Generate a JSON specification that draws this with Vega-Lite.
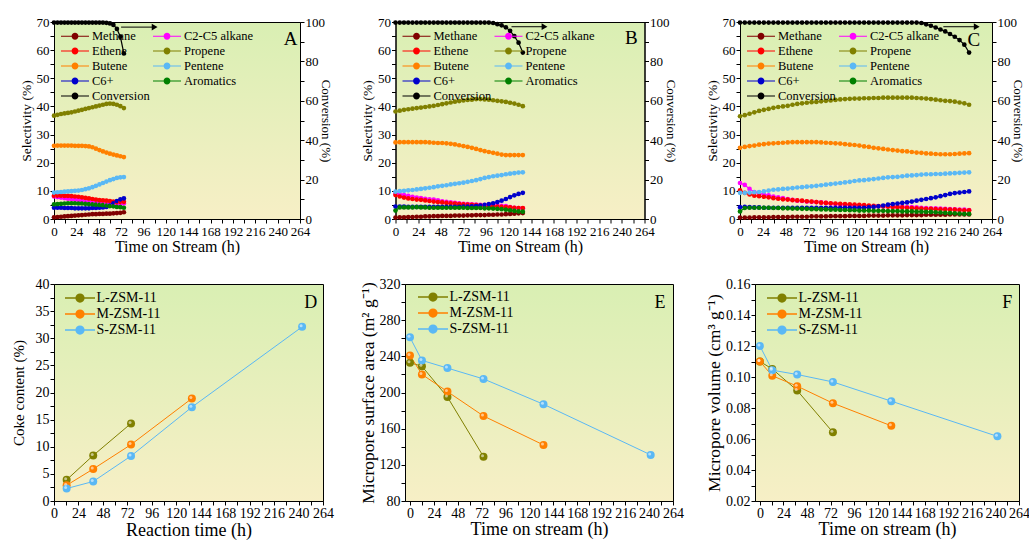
{
 "$schema": "https://vega.github.io/schema/vega-lite/v6.json",
 "padding": {"left": 10, "top": 15, "right": 0, "bottom": 0},
 "config": {
  "font": "Times New Roman, Liberation Serif, serif",
  "view": {"stroke": "black"},
  "axis": {"domainColor": "black", "tickColor": "black", "labelColor": "black", "titleColor": "black", "titleFontWeight": "normal", "grid": false, "labelFont": "Times New Roman, Liberation Serif, serif", "titleFont": "Times New Roman, Liberation Serif, serif", "tickSize": 4, "labelOverlap": false, "labelFlush": false, "labelPadding": 1},
  "legend": {"labelFont": "Times New Roman, Liberation Serif, serif", "labelColor": "black"},
  "text": {"font": "Times New Roman, Liberation Serif, serif"}
 },
 "datasets": {
  "dA": [
   {"t":0,"Methane":0.6,"C2-C5 alkane":8.0,"Ethene":8.3,"Propene":36.7,"Butene":26.0,"Pentene":9.4,"C6+":4.0,"Aromatics":5.2,"Conversion":99.7},
   {"t":3.75,"Methane":0.7,"C2-C5 alkane":7.8,"Ethene":8.3,"Propene":37.0,"Butene":26.1,"Pentene":9.5,"C6+":4.0,"Aromatics":5.3,"Conversion":99.7},
   {"t":7.5,"Methane":0.8,"C2-C5 alkane":7.6,"Ethene":8.3,"Propene":37.3,"Butene":26.1,"Pentene":9.6,"C6+":4.0,"Aromatics":5.4,"Conversion":99.7},
   {"t":11.25,"Methane":0.9,"C2-C5 alkane":7.4,"Ethene":8.2,"Propene":37.5,"Butene":26.1,"Pentene":9.7,"C6+":3.9,"Aromatics":5.5,"Conversion":99.7},
   {"t":15,"Methane":1.0,"C2-C5 alkane":7.2,"Ethene":8.2,"Propene":37.7,"Butene":26.1,"Pentene":9.8,"C6+":3.9,"Aromatics":5.6,"Conversion":99.7},
   {"t":18.75,"Methane":1.1,"C2-C5 alkane":7.0,"Ethene":8.1,"Propene":37.9,"Butene":26.1,"Pentene":9.9,"C6+":3.9,"Aromatics":5.6,"Conversion":99.7},
   {"t":22.5,"Methane":1.2,"C2-C5 alkane":6.9,"Ethene":8.0,"Propene":38.2,"Butene":26.0,"Pentene":10.0,"C6+":3.8,"Aromatics":5.6,"Conversion":99.7},
   {"t":26.25,"Methane":1.3,"C2-C5 alkane":6.7,"Ethene":7.9,"Propene":38.5,"Butene":26.0,"Pentene":10.1,"C6+":3.8,"Aromatics":5.5,"Conversion":99.7},
   {"t":30,"Methane":1.4,"C2-C5 alkane":6.5,"Ethene":7.7,"Propene":38.8,"Butene":26.0,"Pentene":10.3,"C6+":3.8,"Aromatics":5.5,"Conversion":99.7},
   {"t":33.75,"Methane":1.5,"C2-C5 alkane":6.3,"Ethene":7.5,"Propene":39.1,"Butene":25.9,"Pentene":10.6,"C6+":3.8,"Aromatics":5.4,"Conversion":99.7},
   {"t":37.5,"Methane":1.6,"C2-C5 alkane":6.1,"Ethene":7.3,"Propene":39.4,"Butene":25.8,"Pentene":10.9,"C6+":3.8,"Aromatics":5.3,"Conversion":99.7},
   {"t":41.25,"Methane":1.7,"C2-C5 alkane":5.9,"Ethene":7.1,"Propene":39.7,"Butene":25.5,"Pentene":11.3,"C6+":3.9,"Aromatics":5.2,"Conversion":99.7},
   {"t":45,"Methane":1.7,"C2-C5 alkane":5.8,"Ethene":6.9,"Propene":40.0,"Butene":25.0,"Pentene":11.8,"C6+":3.9,"Aromatics":5.1,"Conversion":99.7},
   {"t":48.75,"Methane":1.8,"C2-C5 alkane":5.6,"Ethene":6.7,"Propene":40.3,"Butene":24.5,"Pentene":12.3,"C6+":4.0,"Aromatics":5.0,"Conversion":99.7},
   {"t":52.5,"Methane":1.8,"C2-C5 alkane":5.5,"Ethene":6.6,"Propene":40.6,"Butene":24.0,"Pentene":12.8,"C6+":4.1,"Aromatics":4.9,"Conversion":99.7},
   {"t":56.25,"Methane":1.9,"C2-C5 alkane":5.4,"Ethene":6.5,"Propene":40.9,"Butene":23.6,"Pentene":13.3,"C6+":4.3,"Aromatics":4.8,"Conversion":99.6},
   {"t":60,"Methane":1.9,"C2-C5 alkane":5.3,"Ethene":6.4,"Propene":41.0,"Butene":23.2,"Pentene":13.8,"C6+":4.8,"Aromatics":4.6,"Conversion":99.3},
   {"t":63.75,"Methane":2.0,"C2-C5 alkane":5.2,"Ethene":6.2,"Propene":40.9,"Butene":22.9,"Pentene":14.2,"C6+":5.6,"Aromatics":4.5,"Conversion":98.5},
   {"t":67.5,"Methane":2.1,"C2-C5 alkane":5.2,"Ethene":6.0,"Propene":40.6,"Butene":22.6,"Pentene":14.6,"C6+":6.4,"Aromatics":4.3,"Conversion":96.5},
   {"t":71.25,"Methane":2.2,"C2-C5 alkane":5.3,"Ethene":6.0,"Propene":40.1,"Butene":22.3,"Pentene":14.8,"C6+":7.0,"Aromatics":4.2,"Conversion":92.5},
   {"t":75,"Methane":2.4,"C2-C5 alkane":5.5,"Ethene":6.1,"Propene":39.4,"Butene":22.0,"Pentene":14.9,"C6+":7.3,"Aromatics":4.0,"Conversion":84.0}
  ],
  "dB": [
   {"t":0,"Methane":0.5,"C2-C5 alkane":9.0,"Ethene":8.5,"Propene":38.2,"Butene":27.2,"Pentene":9.7,"C6+":4.4,"Aromatics":3.0,"Conversion":99.7},
   {"t":4.5,"Methane":0.6,"C2-C5 alkane":8.8,"Ethene":8.0,"Propene":38.5,"Butene":27.3,"Pentene":9.9,"C6+":4.4,"Aromatics":4.1,"Conversion":99.7},
   {"t":9,"Methane":0.6,"C2-C5 alkane":8.5,"Ethene":7.6,"Propene":38.8,"Butene":27.3,"Pentene":10.0,"C6+":4.4,"Aromatics":4.1,"Conversion":99.7},
   {"t":13.5,"Methane":0.7,"C2-C5 alkane":8.2,"Ethene":7.3,"Propene":39.0,"Butene":27.3,"Pentene":10.2,"C6+":4.3,"Aromatics":4.1,"Conversion":99.7},
   {"t":18,"Methane":0.7,"C2-C5 alkane":7.9,"Ethene":7.1,"Propene":39.2,"Butene":27.3,"Pentene":10.3,"C6+":4.3,"Aromatics":4.1,"Conversion":99.7},
   {"t":22.5,"Methane":0.8,"C2-C5 alkane":7.6,"Ethene":6.9,"Propene":39.4,"Butene":27.3,"Pentene":10.5,"C6+":4.3,"Aromatics":4.2,"Conversion":99.7},
   {"t":27,"Methane":0.8,"C2-C5 alkane":7.4,"Ethene":6.8,"Propene":39.6,"Butene":27.3,"Pentene":10.7,"C6+":4.3,"Aromatics":4.1,"Conversion":99.7},
   {"t":31.5,"Methane":0.9,"C2-C5 alkane":7.2,"Ethene":6.6,"Propene":39.8,"Butene":27.3,"Pentene":10.9,"C6+":4.3,"Aromatics":4.1,"Conversion":99.7},
   {"t":36,"Methane":0.9,"C2-C5 alkane":7.0,"Ethene":6.4,"Propene":40.0,"Butene":27.2,"Pentene":11.1,"C6+":4.3,"Aromatics":4.0,"Conversion":99.7},
   {"t":40.5,"Methane":1.0,"C2-C5 alkane":6.9,"Ethene":6.2,"Propene":40.2,"Butene":27.1,"Pentene":11.3,"C6+":4.3,"Aromatics":4.0,"Conversion":99.7},
   {"t":45,"Methane":1.0,"C2-C5 alkane":6.6,"Ethene":6.0,"Propene":40.5,"Butene":27.0,"Pentene":11.6,"C6+":4.3,"Aromatics":4.0,"Conversion":99.7},
   {"t":49.5,"Methane":1.1,"C2-C5 alkane":6.3,"Ethene":5.9,"Propene":40.8,"Butene":27.0,"Pentene":11.8,"C6+":4.3,"Aromatics":4.0,"Conversion":99.7},
   {"t":54,"Methane":1.1,"C2-C5 alkane":6.1,"Ethene":5.7,"Propene":41.1,"Butene":26.9,"Pentene":12.0,"C6+":4.3,"Aromatics":4.0,"Conversion":99.7},
   {"t":58.5,"Methane":1.1,"C2-C5 alkane":5.9,"Ethene":5.6,"Propene":41.4,"Butene":26.7,"Pentene":12.3,"C6+":4.3,"Aromatics":4.0,"Conversion":99.7},
   {"t":63,"Methane":1.2,"C2-C5 alkane":5.7,"Ethene":5.5,"Propene":41.7,"Butene":26.5,"Pentene":12.5,"C6+":4.3,"Aromatics":4.0,"Conversion":99.7},
   {"t":67.5,"Methane":1.2,"C2-C5 alkane":5.6,"Ethene":5.3,"Propene":41.9,"Butene":26.2,"Pentene":12.7,"C6+":4.3,"Aromatics":4.0,"Conversion":99.7},
   {"t":72,"Methane":1.2,"C2-C5 alkane":5.4,"Ethene":5.2,"Propene":42.1,"Butene":25.9,"Pentene":12.9,"C6+":4.4,"Aromatics":4.0,"Conversion":99.7},
   {"t":76.5,"Methane":1.3,"C2-C5 alkane":5.3,"Ethene":5.1,"Propene":42.3,"Butene":25.6,"Pentene":13.2,"C6+":4.4,"Aromatics":3.9,"Conversion":99.7},
   {"t":81,"Methane":1.3,"C2-C5 alkane":5.2,"Ethene":5.0,"Propene":42.4,"Butene":25.3,"Pentene":13.5,"C6+":4.5,"Aromatics":3.9,"Conversion":99.7},
   {"t":85.5,"Methane":1.4,"C2-C5 alkane":5.1,"Ethene":4.9,"Propene":42.6,"Butene":24.9,"Pentene":13.8,"C6+":4.6,"Aromatics":3.9,"Conversion":99.7},
   {"t":90,"Methane":1.4,"C2-C5 alkane":5.0,"Ethene":4.8,"Propene":42.6,"Butene":24.5,"Pentene":14.2,"C6+":4.8,"Aromatics":3.9,"Conversion":99.7},
   {"t":94.5,"Methane":1.4,"C2-C5 alkane":4.9,"Ethene":4.7,"Propene":42.5,"Butene":24.1,"Pentene":14.6,"C6+":5.0,"Aromatics":3.8,"Conversion":99.7},
   {"t":99,"Methane":1.5,"C2-C5 alkane":4.9,"Ethene":4.6,"Propene":42.4,"Butene":23.8,"Pentene":14.9,"C6+":5.3,"Aromatics":3.8,"Conversion":99.7},
   {"t":103.5,"Methane":1.5,"C2-C5 alkane":4.8,"Ethene":4.5,"Propene":42.2,"Butene":23.5,"Pentene":15.2,"C6+":5.6,"Aromatics":3.7,"Conversion":99.5},
   {"t":108,"Methane":1.6,"C2-C5 alkane":4.8,"Ethene":4.4,"Propene":42.0,"Butene":23.2,"Pentene":15.4,"C6+":6.0,"Aromatics":3.6,"Conversion":98.9},
   {"t":112.5,"Methane":1.6,"C2-C5 alkane":4.7,"Ethene":4.3,"Propene":41.8,"Butene":22.9,"Pentene":15.6,"C6+":6.5,"Aromatics":3.5,"Conversion":98.3},
   {"t":117,"Methane":1.7,"C2-C5 alkane":4.6,"Ethene":4.2,"Propene":41.6,"Butene":22.7,"Pentene":15.9,"C6+":7.1,"Aromatics":3.3,"Conversion":97.3},
   {"t":121.5,"Methane":1.8,"C2-C5 alkane":4.2,"Ethene":4.1,"Propene":41.3,"Butene":22.7,"Pentene":16.1,"C6+":7.8,"Aromatics":3.1,"Conversion":95.5},
   {"t":126,"Methane":1.9,"C2-C5 alkane":4.0,"Ethene":4.0,"Propene":41.0,"Butene":22.7,"Pentene":16.3,"C6+":8.4,"Aromatics":2.9,"Conversion":92.8},
   {"t":130.5,"Methane":2.0,"C2-C5 alkane":3.9,"Ethene":3.9,"Propene":40.6,"Butene":22.7,"Pentene":16.5,"C6+":8.9,"Aromatics":2.7,"Conversion":89.5},
   {"t":135,"Methane":2.1,"C2-C5 alkane":3.8,"Ethene":3.9,"Propene":40.1,"Butene":22.7,"Pentene":16.6,"C6+":9.3,"Aromatics":2.6,"Conversion":84.5}
  ],
  "dC": [
   {"t":0,"Methane":0.5,"C2-C5 alkane":12.8,"Ethene":10.2,"Propene":36.5,"Butene":25.3,"Pentene":9.3,"C6+":4.2,"Aromatics":2.7,"Conversion":99.7},
   {"t":5,"Methane":0.5,"C2-C5 alkane":12.1,"Ethene":9.3,"Propene":36.9,"Butene":25.6,"Pentene":9.3,"C6+":4.3,"Aromatics":3.9,"Conversion":99.7},
   {"t":10,"Methane":0.5,"C2-C5 alkane":10.7,"Ethene":8.7,"Propene":37.4,"Butene":25.9,"Pentene":9.4,"C6+":4.2,"Aromatics":4.0,"Conversion":99.7},
   {"t":15,"Methane":0.6,"C2-C5 alkane":9.6,"Ethene":8.3,"Propene":37.9,"Butene":26.1,"Pentene":9.5,"C6+":4.1,"Aromatics":4.0,"Conversion":99.7},
   {"t":20,"Methane":0.6,"C2-C5 alkane":9.1,"Ethene":8.1,"Propene":38.4,"Butene":26.4,"Pentene":9.6,"C6+":4.1,"Aromatics":4.0,"Conversion":99.7},
   {"t":25,"Methane":0.6,"C2-C5 alkane":8.7,"Ethene":7.9,"Propene":38.8,"Butene":26.6,"Pentene":9.8,"C6+":4.0,"Aromatics":4.0,"Conversion":99.7},
   {"t":30,"Methane":0.6,"C2-C5 alkane":8.4,"Ethene":7.7,"Propene":39.1,"Butene":26.8,"Pentene":10.1,"C6+":4.0,"Aromatics":4.0,"Conversion":99.7},
   {"t":35,"Methane":0.7,"C2-C5 alkane":8.0,"Ethene":7.4,"Propene":39.5,"Butene":26.9,"Pentene":10.4,"C6+":4.0,"Aromatics":3.9,"Conversion":99.7},
   {"t":40,"Methane":0.7,"C2-C5 alkane":7.7,"Ethene":7.2,"Propene":39.8,"Butene":27.0,"Pentene":10.5,"C6+":4.0,"Aromatics":3.9,"Conversion":99.7},
   {"t":45,"Methane":0.7,"C2-C5 alkane":7.4,"Ethene":7.0,"Propene":40.0,"Butene":27.1,"Pentene":10.7,"C6+":4.0,"Aromatics":3.8,"Conversion":99.7},
   {"t":50,"Methane":0.7,"C2-C5 alkane":7.1,"Ethene":6.9,"Propene":40.2,"Butene":27.2,"Pentene":10.8,"C6+":4.0,"Aromatics":3.8,"Conversion":99.7},
   {"t":55,"Methane":0.8,"C2-C5 alkane":6.8,"Ethene":6.7,"Propene":40.6,"Butene":27.3,"Pentene":11.0,"C6+":4.0,"Aromatics":3.7,"Conversion":99.7},
   {"t":60,"Methane":0.8,"C2-C5 alkane":6.5,"Ethene":6.6,"Propene":40.9,"Butene":27.3,"Pentene":11.2,"C6+":4.0,"Aromatics":3.7,"Conversion":99.7},
   {"t":65,"Methane":0.8,"C2-C5 alkane":6.4,"Ethene":6.5,"Propene":41.1,"Butene":27.3,"Pentene":11.3,"C6+":4.0,"Aromatics":3.6,"Conversion":99.7},
   {"t":70,"Methane":0.8,"C2-C5 alkane":6.2,"Ethene":6.3,"Propene":41.3,"Butene":27.3,"Pentene":11.5,"C6+":4.0,"Aromatics":3.6,"Conversion":99.7},
   {"t":75,"Methane":0.9,"C2-C5 alkane":6.1,"Ethene":6.2,"Propene":41.5,"Butene":27.3,"Pentene":11.6,"C6+":4.0,"Aromatics":3.5,"Conversion":99.7},
   {"t":80,"Methane":0.9,"C2-C5 alkane":6.0,"Ethene":6.0,"Propene":41.6,"Butene":27.3,"Pentene":11.8,"C6+":4.0,"Aromatics":3.5,"Conversion":99.7},
   {"t":85,"Methane":0.9,"C2-C5 alkane":5.9,"Ethene":5.8,"Propene":41.8,"Butene":27.2,"Pentene":12.0,"C6+":4.0,"Aromatics":3.4,"Conversion":99.7},
   {"t":90,"Methane":0.9,"C2-C5 alkane":5.7,"Ethene":5.7,"Propene":42.0,"Butene":27.1,"Pentene":12.2,"C6+":4.0,"Aromatics":3.4,"Conversion":99.7},
   {"t":95,"Methane":1.0,"C2-C5 alkane":5.5,"Ethene":5.6,"Propene":42.1,"Butene":27.0,"Pentene":12.4,"C6+":4.0,"Aromatics":3.3,"Conversion":99.7},
   {"t":100,"Methane":1.0,"C2-C5 alkane":5.3,"Ethene":5.5,"Propene":42.3,"Butene":26.9,"Pentene":12.6,"C6+":4.0,"Aromatics":3.3,"Conversion":99.7},
   {"t":105,"Methane":1.0,"C2-C5 alkane":5.1,"Ethene":5.4,"Propene":42.5,"Butene":26.8,"Pentene":12.8,"C6+":4.0,"Aromatics":3.2,"Conversion":99.7},
   {"t":110,"Methane":1.0,"C2-C5 alkane":5.0,"Ethene":5.3,"Propene":42.6,"Butene":26.6,"Pentene":13.0,"C6+":4.0,"Aromatics":3.2,"Conversion":99.7},
   {"t":115,"Methane":1.1,"C2-C5 alkane":4.9,"Ethene":5.2,"Propene":42.7,"Butene":26.4,"Pentene":13.2,"C6+":4.0,"Aromatics":3.1,"Conversion":99.7},
   {"t":120,"Methane":1.1,"C2-C5 alkane":4.8,"Ethene":5.1,"Propene":42.8,"Butene":26.3,"Pentene":13.5,"C6+":4.0,"Aromatics":3.1,"Conversion":99.7},
   {"t":125,"Methane":1.1,"C2-C5 alkane":4.8,"Ethene":5.0,"Propene":42.8,"Butene":26.1,"Pentene":13.7,"C6+":4.0,"Aromatics":3.0,"Conversion":99.7},
   {"t":130,"Methane":1.1,"C2-C5 alkane":4.7,"Ethene":4.9,"Propene":42.9,"Butene":25.8,"Pentene":13.8,"C6+":4.0,"Aromatics":3.0,"Conversion":99.7},
   {"t":135,"Methane":1.2,"C2-C5 alkane":4.6,"Ethene":4.8,"Propene":42.9,"Butene":25.6,"Pentene":14.0,"C6+":4.1,"Aromatics":3.0,"Conversion":99.7},
   {"t":140,"Methane":1.2,"C2-C5 alkane":4.5,"Ethene":4.7,"Propene":43.0,"Butene":25.3,"Pentene":14.2,"C6+":4.3,"Aromatics":2.9,"Conversion":99.7},
   {"t":145,"Methane":1.2,"C2-C5 alkane":4.5,"Ethene":4.6,"Propene":43.0,"Butene":25.1,"Pentene":14.4,"C6+":4.5,"Aromatics":2.9,"Conversion":99.7},
   {"t":150,"Methane":1.2,"C2-C5 alkane":4.4,"Ethene":4.5,"Propene":43.1,"Butene":24.9,"Pentene":14.6,"C6+":4.8,"Aromatics":2.9,"Conversion":99.7},
   {"t":155,"Methane":1.3,"C2-C5 alkane":4.4,"Ethene":4.4,"Propene":43.1,"Butene":24.7,"Pentene":14.8,"C6+":5.1,"Aromatics":2.8,"Conversion":99.7},
   {"t":160,"Methane":1.3,"C2-C5 alkane":4.3,"Ethene":4.3,"Propene":43.1,"Butene":24.5,"Pentene":14.9,"C6+":5.3,"Aromatics":2.8,"Conversion":99.7},
   {"t":165,"Methane":1.3,"C2-C5 alkane":4.3,"Ethene":4.2,"Propene":43.1,"Butene":24.3,"Pentene":15.0,"C6+":5.5,"Aromatics":2.8,"Conversion":99.7},
   {"t":170,"Methane":1.3,"C2-C5 alkane":4.3,"Ethene":4.1,"Propene":43.1,"Butene":24.1,"Pentene":15.2,"C6+":5.7,"Aromatics":2.7,"Conversion":99.7},
   {"t":175,"Methane":1.4,"C2-C5 alkane":4.2,"Ethene":4.0,"Propene":43.1,"Butene":24.0,"Pentene":15.4,"C6+":5.9,"Aromatics":2.7,"Conversion":99.7},
   {"t":180,"Methane":1.4,"C2-C5 alkane":4.2,"Ethene":3.9,"Propene":43.1,"Butene":23.8,"Pentene":15.5,"C6+":6.2,"Aromatics":2.7,"Conversion":99.7},
   {"t":185,"Methane":1.4,"C2-C5 alkane":4.1,"Ethene":3.8,"Propene":43.0,"Butene":23.6,"Pentene":15.6,"C6+":6.5,"Aromatics":2.6,"Conversion":99.7},
   {"t":190,"Methane":1.4,"C2-C5 alkane":4.0,"Ethene":3.7,"Propene":42.9,"Butene":23.5,"Pentene":15.8,"C6+":6.8,"Aromatics":2.6,"Conversion":99.5},
   {"t":195,"Methane":1.5,"C2-C5 alkane":3.9,"Ethene":3.6,"Propene":42.8,"Butene":23.3,"Pentene":15.9,"C6+":7.1,"Aromatics":2.5,"Conversion":98.8},
   {"t":200,"Methane":1.5,"C2-C5 alkane":3.8,"Ethene":3.6,"Propene":42.6,"Butene":23.2,"Pentene":15.9,"C6+":7.4,"Aromatics":2.5,"Conversion":98.1},
   {"t":205,"Methane":1.5,"C2-C5 alkane":3.8,"Ethene":3.5,"Propene":42.4,"Butene":23.1,"Pentene":16.0,"C6+":7.7,"Aromatics":2.4,"Conversion":97.2},
   {"t":210,"Methane":1.5,"C2-C5 alkane":3.7,"Ethene":3.4,"Propene":42.2,"Butene":23.0,"Pentene":16.0,"C6+":8.1,"Aromatics":2.3,"Conversion":96.2},
   {"t":215,"Methane":1.5,"C2-C5 alkane":3.6,"Ethene":3.4,"Propene":42.0,"Butene":23.0,"Pentene":16.1,"C6+":8.5,"Aromatics":2.2,"Conversion":95.2},
   {"t":220,"Methane":1.6,"C2-C5 alkane":3.5,"Ethene":3.3,"Propene":41.9,"Butene":23.0,"Pentene":16.2,"C6+":8.9,"Aromatics":2.1,"Conversion":93.9},
   {"t":225,"Methane":1.6,"C2-C5 alkane":3.4,"Ethene":3.3,"Propene":41.7,"Butene":23.1,"Pentene":16.3,"C6+":9.2,"Aromatics":2.0,"Conversion":92.5},
   {"t":230,"Methane":1.6,"C2-C5 alkane":3.3,"Ethene":3.2,"Propene":41.4,"Butene":23.2,"Pentene":16.4,"C6+":9.4,"Aromatics":1.9,"Conversion":90.8},
   {"t":235,"Methane":1.6,"C2-C5 alkane":3.3,"Ethene":3.1,"Propene":41.1,"Butene":23.3,"Pentene":16.5,"C6+":9.6,"Aromatics":1.8,"Conversion":88.5},
   {"t":240,"Methane":1.6,"C2-C5 alkane":3.2,"Ethene":3.1,"Propene":40.6,"Butene":23.4,"Pentene":16.6,"C6+":9.8,"Aromatics":1.8,"Conversion":84.5}
  ],
  "dD": [
   {"t":12.4,"v":3.9,"s":"L-ZSM-11"},{"t":38.5,"v":8.4,"s":"L-ZSM-11"},{"t":75.6,"v":14.3,"s":"L-ZSM-11"},
   {"t":12.4,"v":2.9,"s":"M-ZSM-11"},{"t":38.5,"v":5.9,"s":"M-ZSM-11"},{"t":75.6,"v":10.4,"s":"M-ZSM-11"},{"t":135.3,"v":18.9,"s":"M-ZSM-11"},
   {"t":12.4,"v":2.3,"s":"S-ZSM-11"},{"t":38.5,"v":3.6,"s":"S-ZSM-11"},{"t":75.6,"v":8.3,"s":"S-ZSM-11"},{"t":135.3,"v":17.3,"s":"S-ZSM-11"},{"t":243.5,"v":32.1,"s":"S-ZSM-11"}
  ],
  "dE": [
   {"t":0,"v":233,"s":"L-ZSM-11"},{"t":12,"v":229,"s":"L-ZSM-11"},{"t":37.6,"v":195,"s":"L-ZSM-11"},{"t":73.8,"v":129,"s":"L-ZSM-11"},
   {"t":0,"v":241,"s":"M-ZSM-11"},{"t":12,"v":220,"s":"M-ZSM-11"},{"t":37.6,"v":201,"s":"M-ZSM-11"},{"t":73.8,"v":174,"s":"M-ZSM-11"},{"t":134,"v":142,"s":"M-ZSM-11"},
   {"t":0,"v":261,"s":"S-ZSM-11"},{"t":12,"v":235.5,"s":"S-ZSM-11"},{"t":37.6,"v":227,"s":"S-ZSM-11"},{"t":73.8,"v":215,"s":"S-ZSM-11"},{"t":134,"v":187,"s":"S-ZSM-11"},{"t":241.6,"v":131,"s":"S-ZSM-11"}
  ],
  "dF": [
   {"t":0,"v":0.110,"s":"L-ZSM-11"},{"t":12.6,"v":0.1052,"s":"L-ZSM-11"},{"t":38,"v":0.0913,"s":"L-ZSM-11"},{"t":74.4,"v":0.0643,"s":"L-ZSM-11"},
   {"t":0,"v":0.110,"s":"M-ZSM-11"},{"t":12.6,"v":0.1008,"s":"M-ZSM-11"},{"t":38,"v":0.0941,"s":"M-ZSM-11"},{"t":74.4,"v":0.0831,"s":"M-ZSM-11"},{"t":133.9,"v":0.0685,"s":"M-ZSM-11"},
   {"t":0,"v":0.120,"s":"S-ZSM-11"},{"t":12.6,"v":0.1044,"s":"S-ZSM-11"},{"t":38,"v":0.1016,"s":"S-ZSM-11"},{"t":74.4,"v":0.0968,"s":"S-ZSM-11"},{"t":133.9,"v":0.0844,"s":"S-ZSM-11"},{"t":242,"v":0.0617,"s":"S-ZSM-11"}
  ]
 },
 "spacing": 21,
 "resolve": {"scale": {"color": "independent"}, "legend": {"color": "independent"}},
 "vconcat": [
  {
   "hconcat": [
    {
     "width": 246, "height": 197,
     "view": {"stroke": "black", "fill": {"gradient": "linear", "x1": 0, "y1": 0, "x2": 0, "y2": 1, "stops": [{"offset": 0, "color": "#d9efb3"}, {"offset": 1, "color": "#f7efc6"}]}},
     "resolve": {"scale": {"y": "independent"}},
     "encoding": {"x": {"field": "t", "type": "quantitative", "scale": {"domain": [0, 264], "nice": false}, "axis": {"title": "Time on Stream (h)", "values": [0,12,24,36,48,60,72,84,96,108,120,132,144,156,168,180,192,204,216,228,240,252,264], "labelExpr": "datum.value % 24 === 0 ? datum.label : ''", "encode": {"ticks": {"update": {"y2": {"signal": "datum.value % 24 === 0 ? 4 : 2"}}}}, "labelFontSize": 13, "labelPadding": 2, "titleFontSize": 16, "titlePadding": 0.5}}},
     "layer": [
      {
       "encoding": {"y": {"field": "sel", "type": "quantitative", "scale": {"domain": [0, 70], "nice": false}, "axis": {"orient": "left", "title": "Selectivity (%)", "values": [0,5,10,15,20,25,30,35,40,45,50,55,60,65,70], "labelExpr": "datum.value % 10 === 0 ? datum.label : ''", "encode": {"ticks": {"update": {"x2": {"signal": "datum.value % 10 === 0 ? -4 : -2"}}}}, "labelFontSize": 13, "titleFontSize": 13.5, "titlePadding": 3}}},
       "layer": [
        {"data": {"name": "dA"}, "transform": [{"fold": ["Methane","C2-C5 alkane","Ethene","Propene","Butene","Pentene","C6+","Aromatics"], "as": ["series", "sel"]}], "mark": {"type": "line", "strokeWidth": 1.2},
         "encoding": {"color": {"field": "series", "type": "nominal", "scale": {"domain": ["Methane","C2-C5 alkane","Ethene","Propene","Butene","Pentene","C6+","Aromatics","Conversion"], "range": ["#800000","#ff00ff","#ff0000","#808000","#ff8000","#5ab8f5","#0000cc","#008000","#000000"]}, "legend": {"title": null, "orient": "none", "legendX": 6, "legendY": 6, "columns": 2, "direction": "horizontal", "columnPadding": 0, "rowPadding": 0, "symbolType": "M-2,0H2M-0.4,0A0.4,0.4,0,1,0,0.4,0A0.4,0.4,0,1,0,-0.4,0M-0.25,0A0.25,0.25,0,1,0,0.25,0A0.25,0.25,0,1,0,-0.25,0M-0.1,0A0.1,0.1,0,1,0,0.1,0A0.1,0.1,0,1,0,-0.1,0", "symbolSize": 196, "symbolOffset": 7, "symbolStrokeWidth": 1.2, "labelFontSize": 12.5, "labelOffset": 9, "padding": 0}}}},
        {"data": {"name": "dA"}, "transform": [{"fold": ["Methane","C2-C5 alkane","Ethene","Propene","Butene","Pentene","C6+","Aromatics"], "as": ["series", "sel"]}], "mark": {"type": "circle", "size": 22, "opacity": 1},
         "encoding": {"color": {"field": "series", "type": "nominal", "scale": {"domain": ["Methane","C2-C5 alkane","Ethene","Propene","Butene","Pentene","C6+","Aromatics","Conversion"], "range": ["#800000","#ff00ff","#ff0000","#808000","#ff8000","#5ab8f5","#0000cc","#008000","#000000"]}, "legend": {"title": null, "orient": "none", "legendX": 6, "legendY": 6, "columns": 2, "direction": "horizontal", "columnPadding": 0, "rowPadding": 0, "symbolType": "M-2,0H2M-0.4,0A0.4,0.4,0,1,0,0.4,0A0.4,0.4,0,1,0,-0.4,0M-0.25,0A0.25,0.25,0,1,0,0.25,0A0.25,0.25,0,1,0,-0.25,0M-0.1,0A0.1,0.1,0,1,0,0.1,0A0.1,0.1,0,1,0,-0.1,0", "symbolSize": 196, "symbolOffset": 7, "symbolStrokeWidth": 1.2, "labelFontSize": 12.5, "labelOffset": 9, "padding": 0}}}},
        {"data": {"values": [{"t": 254, "sel": 64, "lab": "A"}]}, "mark": {"type": "text", "fontSize": 19, "color": "black"}, "encoding": {"text": {"field": "lab"}}}
       ]
      },
      {
       "encoding": {"y": {"field": "conv", "type": "quantitative", "scale": {"domain": [0, 100], "nice": false}, "axis": {"orient": "right", "title": "Conversion (%)", "values": [0,10,20,30,40,50,60,70,80,90,100], "labelExpr": "datum.value % 20 === 0 ? datum.label : ''", "encode": {"ticks": {"update": {"x2": {"signal": "datum.value % 20 === 0 ? 4 : 2"}}}}, "labelFontSize": 13, "titleFontSize": 13, "titlePadding": -6}}},
       "layer": [
        {"data": {"name": "dA"}, "transform": [{"fold": ["Conversion"], "as": ["series", "conv"]}], "mark": {"type": "line", "strokeWidth": 1.2},
         "encoding": {"color": {"field": "series", "type": "nominal", "scale": {"domain": ["Methane","C2-C5 alkane","Ethene","Propene","Butene","Pentene","C6+","Aromatics","Conversion"], "range": ["#800000","#ff00ff","#ff0000","#808000","#ff8000","#5ab8f5","#0000cc","#008000","#000000"]}, "legend": {"title": null, "orient": "none", "legendX": 6, "legendY": 6, "columns": 2, "direction": "horizontal", "columnPadding": 0, "rowPadding": 0, "symbolType": "M-2,0H2M-0.4,0A0.4,0.4,0,1,0,0.4,0A0.4,0.4,0,1,0,-0.4,0M-0.25,0A0.25,0.25,0,1,0,0.25,0A0.25,0.25,0,1,0,-0.25,0M-0.1,0A0.1,0.1,0,1,0,0.1,0A0.1,0.1,0,1,0,-0.1,0", "symbolSize": 196, "symbolOffset": 7, "symbolStrokeWidth": 1.2, "labelFontSize": 12.5, "labelOffset": 9, "padding": 0}}}},
        {"data": {"name": "dA"}, "transform": [{"fold": ["Conversion"], "as": ["series", "conv"]}], "mark": {"type": "circle", "size": 22, "opacity": 1},
         "encoding": {"color": {"field": "series", "type": "nominal", "scale": {"domain": ["Methane","C2-C5 alkane","Ethene","Propene","Butene","Pentene","C6+","Aromatics","Conversion"], "range": ["#800000","#ff00ff","#ff0000","#808000","#ff8000","#5ab8f5","#0000cc","#008000","#000000"]}, "legend": {"title": null, "orient": "none", "legendX": 6, "legendY": 6, "columns": 2, "direction": "horizontal", "columnPadding": 0, "rowPadding": 0, "symbolType": "M-2,0H2M-0.4,0A0.4,0.4,0,1,0,0.4,0A0.4,0.4,0,1,0,-0.4,0M-0.25,0A0.25,0.25,0,1,0,0.25,0A0.25,0.25,0,1,0,-0.25,0M-0.1,0A0.1,0.1,0,1,0,0.1,0A0.1,0.1,0,1,0,-0.1,0", "symbolSize": 196, "symbolOffset": 7, "symbolStrokeWidth": 1.2, "labelFontSize": 12.5, "labelOffset": 9, "padding": 0}}}},
        {"data": {"values": [{"t": 72, "t2": 108, "conv": 97.4}]}, "mark": {"type": "rule", "color": "black", "strokeWidth": 1}, "encoding": {"x2": {"field": "t2"}}},
        {"data": {"values": [{"t": 108, "conv": 97.4}]}, "mark": {"type": "point", "shape": "triangle-right", "filled": true, "color": "black", "size": 45, "opacity": 1}}
       ]
      }
     ]
    },
    {
     "width": 249, "height": 197,
     "view": {"stroke": "black", "fill": {"gradient": "linear", "x1": 0, "y1": 0, "x2": 0, "y2": 1, "stops": [{"offset": 0, "color": "#d9efb3"}, {"offset": 1, "color": "#f7efc6"}]}},
     "resolve": {"scale": {"y": "independent"}},
     "encoding": {"x": {"field": "t", "type": "quantitative", "scale": {"domain": [0, 264], "nice": false}, "axis": {"title": "Time on Stream (h)", "values": [0,12,24,36,48,60,72,84,96,108,120,132,144,156,168,180,192,204,216,228,240,252,264], "labelExpr": "datum.value % 24 === 0 ? datum.label : ''", "encode": {"ticks": {"update": {"y2": {"signal": "datum.value % 24 === 0 ? 4 : 2"}}}}, "labelFontSize": 13, "labelPadding": 2, "titleFontSize": 16, "titlePadding": 0.5}}},
     "layer": [
      {
       "encoding": {"y": {"field": "sel", "type": "quantitative", "scale": {"domain": [0, 70], "nice": false}, "axis": {"orient": "left", "title": "Selectivity (%)", "values": [0,5,10,15,20,25,30,35,40,45,50,55,60,65,70], "labelExpr": "datum.value % 10 === 0 ? datum.label : ''", "encode": {"ticks": {"update": {"x2": {"signal": "datum.value % 10 === 0 ? -4 : -2"}}}}, "labelFontSize": 13, "titleFontSize": 13.5, "titlePadding": 3}}},
       "layer": [
        {"data": {"name": "dB"}, "transform": [{"fold": ["Methane","C2-C5 alkane","Ethene","Propene","Butene","Pentene","C6+","Aromatics"], "as": ["series", "sel"]}], "mark": {"type": "line", "strokeWidth": 1.2},
         "encoding": {"color": {"field": "series", "type": "nominal", "scale": {"domain": ["Methane","C2-C5 alkane","Ethene","Propene","Butene","Pentene","C6+","Aromatics","Conversion"], "range": ["#800000","#ff00ff","#ff0000","#808000","#ff8000","#5ab8f5","#0000cc","#008000","#000000"]}, "legend": {"title": null, "orient": "none", "legendX": 6, "legendY": 6, "columns": 2, "direction": "horizontal", "columnPadding": 0, "rowPadding": 0, "symbolType": "M-2,0H2M-0.4,0A0.4,0.4,0,1,0,0.4,0A0.4,0.4,0,1,0,-0.4,0M-0.25,0A0.25,0.25,0,1,0,0.25,0A0.25,0.25,0,1,0,-0.25,0M-0.1,0A0.1,0.1,0,1,0,0.1,0A0.1,0.1,0,1,0,-0.1,0", "symbolSize": 196, "symbolOffset": 7, "symbolStrokeWidth": 1.2, "labelFontSize": 12.5, "labelOffset": 9, "padding": 0}}}},
        {"data": {"name": "dB"}, "transform": [{"fold": ["Methane","C2-C5 alkane","Ethene","Propene","Butene","Pentene","C6+","Aromatics"], "as": ["series", "sel"]}], "mark": {"type": "circle", "size": 22, "opacity": 1},
         "encoding": {"color": {"field": "series", "type": "nominal", "scale": {"domain": ["Methane","C2-C5 alkane","Ethene","Propene","Butene","Pentene","C6+","Aromatics","Conversion"], "range": ["#800000","#ff00ff","#ff0000","#808000","#ff8000","#5ab8f5","#0000cc","#008000","#000000"]}, "legend": {"title": null, "orient": "none", "legendX": 6, "legendY": 6, "columns": 2, "direction": "horizontal", "columnPadding": 0, "rowPadding": 0, "symbolType": "M-2,0H2M-0.4,0A0.4,0.4,0,1,0,0.4,0A0.4,0.4,0,1,0,-0.4,0M-0.25,0A0.25,0.25,0,1,0,0.25,0A0.25,0.25,0,1,0,-0.25,0M-0.1,0A0.1,0.1,0,1,0,0.1,0A0.1,0.1,0,1,0,-0.1,0", "symbolSize": 196, "symbolOffset": 7, "symbolStrokeWidth": 1.2, "labelFontSize": 12.5, "labelOffset": 9, "padding": 0}}}},
        {"data": {"values": [{"t": 250, "sel": 64.4, "lab": "B"}]}, "mark": {"type": "text", "fontSize": 19, "color": "black"}, "encoding": {"text": {"field": "lab"}}}
       ]
      },
      {
       "encoding": {"y": {"field": "conv", "type": "quantitative", "scale": {"domain": [0, 100], "nice": false}, "axis": {"orient": "right", "title": "Conversion (%)", "values": [0,10,20,30,40,50,60,70,80,90,100], "labelExpr": "datum.value % 20 === 0 ? datum.label : ''", "encode": {"ticks": {"update": {"x2": {"signal": "datum.value % 20 === 0 ? 4 : 2"}}}}, "labelFontSize": 13, "titleFontSize": 13, "titlePadding": -6}}},
       "layer": [
        {"data": {"name": "dB"}, "transform": [{"fold": ["Conversion"], "as": ["series", "conv"]}], "mark": {"type": "line", "strokeWidth": 1.2},
         "encoding": {"color": {"field": "series", "type": "nominal", "scale": {"domain": ["Methane","C2-C5 alkane","Ethene","Propene","Butene","Pentene","C6+","Aromatics","Conversion"], "range": ["#800000","#ff00ff","#ff0000","#808000","#ff8000","#5ab8f5","#0000cc","#008000","#000000"]}, "legend": {"title": null, "orient": "none", "legendX": 6, "legendY": 6, "columns": 2, "direction": "horizontal", "columnPadding": 0, "rowPadding": 0, "symbolType": "M-2,0H2M-0.4,0A0.4,0.4,0,1,0,0.4,0A0.4,0.4,0,1,0,-0.4,0M-0.25,0A0.25,0.25,0,1,0,0.25,0A0.25,0.25,0,1,0,-0.25,0M-0.1,0A0.1,0.1,0,1,0,0.1,0A0.1,0.1,0,1,0,-0.1,0", "symbolSize": 196, "symbolOffset": 7, "symbolStrokeWidth": 1.2, "labelFontSize": 12.5, "labelOffset": 9, "padding": 0}}}},
        {"data": {"name": "dB"}, "transform": [{"fold": ["Conversion"], "as": ["series", "conv"]}], "mark": {"type": "circle", "size": 22, "opacity": 1},
         "encoding": {"color": {"field": "series", "type": "nominal", "scale": {"domain": ["Methane","C2-C5 alkane","Ethene","Propene","Butene","Pentene","C6+","Aromatics","Conversion"], "range": ["#800000","#ff00ff","#ff0000","#808000","#ff8000","#5ab8f5","#0000cc","#008000","#000000"]}, "legend": {"title": null, "orient": "none", "legendX": 6, "legendY": 6, "columns": 2, "direction": "horizontal", "columnPadding": 0, "rowPadding": 0, "symbolType": "M-2,0H2M-0.4,0A0.4,0.4,0,1,0,0.4,0A0.4,0.4,0,1,0,-0.4,0M-0.25,0A0.25,0.25,0,1,0,0.25,0A0.25,0.25,0,1,0,-0.25,0M-0.1,0A0.1,0.1,0,1,0,0.1,0A0.1,0.1,0,1,0,-0.1,0", "symbolSize": 196, "symbolOffset": 7, "symbolStrokeWidth": 1.2, "labelFontSize": 12.5, "labelOffset": 9, "padding": 0}}}},
        {"data": {"values": [{"t": 123, "t2": 158, "conv": 97.6}]}, "mark": {"type": "rule", "color": "black", "strokeWidth": 1}, "encoding": {"x2": {"field": "t2"}}},
        {"data": {"values": [{"t": 158, "conv": 97.6}]}, "mark": {"type": "point", "shape": "triangle-right", "filled": true, "color": "black", "size": 45, "opacity": 1}}
       ]
      }
     ]
    },
    {
     "width": 252, "height": 197,
     "view": {"stroke": "black", "fill": {"gradient": "linear", "x1": 0, "y1": 0, "x2": 0, "y2": 1, "stops": [{"offset": 0, "color": "#d9efb3"}, {"offset": 1, "color": "#f7efc6"}]}},
     "resolve": {"scale": {"y": "independent"}},
     "encoding": {"x": {"field": "t", "type": "quantitative", "scale": {"domain": [0, 264], "nice": false}, "axis": {"title": "Time on Stream (h)", "values": [0,12,24,36,48,60,72,84,96,108,120,132,144,156,168,180,192,204,216,228,240,252,264], "labelExpr": "datum.value % 24 === 0 ? datum.label : ''", "encode": {"ticks": {"update": {"y2": {"signal": "datum.value % 24 === 0 ? 4 : 2"}}}}, "labelFontSize": 13, "labelPadding": 2, "titleFontSize": 16, "titlePadding": 0.5}}},
     "layer": [
      {
       "encoding": {"y": {"field": "sel", "type": "quantitative", "scale": {"domain": [0, 70], "nice": false}, "axis": {"orient": "left", "title": "Selectivity (%)", "values": [0,5,10,15,20,25,30,35,40,45,50,55,60,65,70], "labelExpr": "datum.value % 10 === 0 ? datum.label : ''", "encode": {"ticks": {"update": {"x2": {"signal": "datum.value % 10 === 0 ? -4 : -2"}}}}, "labelFontSize": 13, "titleFontSize": 13.5, "titlePadding": 3}}},
       "layer": [
        {"data": {"name": "dC"}, "transform": [{"fold": ["Methane","C2-C5 alkane","Ethene","Propene","Butene","Pentene","C6+","Aromatics"], "as": ["series", "sel"]}], "mark": {"type": "line", "strokeWidth": 1.2},
         "encoding": {"color": {"field": "series", "type": "nominal", "scale": {"domain": ["Methane","C2-C5 alkane","Ethene","Propene","Butene","Pentene","C6+","Aromatics","Conversion"], "range": ["#800000","#ff00ff","#ff0000","#808000","#ff8000","#5ab8f5","#0000cc","#008000","#000000"]}, "legend": {"title": null, "orient": "none", "legendX": 6, "legendY": 6, "columns": 2, "direction": "horizontal", "columnPadding": 0, "rowPadding": 0, "symbolType": "M-2,0H2M-0.4,0A0.4,0.4,0,1,0,0.4,0A0.4,0.4,0,1,0,-0.4,0M-0.25,0A0.25,0.25,0,1,0,0.25,0A0.25,0.25,0,1,0,-0.25,0M-0.1,0A0.1,0.1,0,1,0,0.1,0A0.1,0.1,0,1,0,-0.1,0", "symbolSize": 196, "symbolOffset": 7, "symbolStrokeWidth": 1.2, "labelFontSize": 12.5, "labelOffset": 9, "padding": 0}}}},
        {"data": {"name": "dC"}, "transform": [{"fold": ["Methane","C2-C5 alkane","Ethene","Propene","Butene","Pentene","C6+","Aromatics"], "as": ["series", "sel"]}], "mark": {"type": "circle", "size": 22, "opacity": 1},
         "encoding": {"color": {"field": "series", "type": "nominal", "scale": {"domain": ["Methane","C2-C5 alkane","Ethene","Propene","Butene","Pentene","C6+","Aromatics","Conversion"], "range": ["#800000","#ff00ff","#ff0000","#808000","#ff8000","#5ab8f5","#0000cc","#008000","#000000"]}, "legend": {"title": null, "orient": "none", "legendX": 6, "legendY": 6, "columns": 2, "direction": "horizontal", "columnPadding": 0, "rowPadding": 0, "symbolType": "M-2,0H2M-0.4,0A0.4,0.4,0,1,0,0.4,0A0.4,0.4,0,1,0,-0.4,0M-0.25,0A0.25,0.25,0,1,0,0.25,0A0.25,0.25,0,1,0,-0.25,0M-0.1,0A0.1,0.1,0,1,0,0.1,0A0.1,0.1,0,1,0,-0.1,0", "symbolSize": 196, "symbolOffset": 7, "symbolStrokeWidth": 1.2, "labelFontSize": 12.5, "labelOffset": 9, "padding": 0}}}},
        {"data": {"values": [{"t": 245, "sel": 63.5, "lab": "C"}]}, "mark": {"type": "text", "fontSize": 19, "color": "black"}, "encoding": {"text": {"field": "lab"}}}
       ]
      },
      {
       "encoding": {"y": {"field": "conv", "type": "quantitative", "scale": {"domain": [0, 100], "nice": false}, "axis": {"orient": "right", "title": "Conversion (%)", "values": [0,10,20,30,40,50,60,70,80,90,100], "labelExpr": "datum.value % 20 === 0 ? datum.label : ''", "encode": {"ticks": {"update": {"x2": {"signal": "datum.value % 20 === 0 ? 4 : 2"}}}}, "labelFontSize": 13, "titleFontSize": 13, "titlePadding": -6}}},
       "layer": [
        {"data": {"name": "dC"}, "transform": [{"fold": ["Conversion"], "as": ["series", "conv"]}], "mark": {"type": "line", "strokeWidth": 1.2},
         "encoding": {"color": {"field": "series", "type": "nominal", "scale": {"domain": ["Methane","C2-C5 alkane","Ethene","Propene","Butene","Pentene","C6+","Aromatics","Conversion"], "range": ["#800000","#ff00ff","#ff0000","#808000","#ff8000","#5ab8f5","#0000cc","#008000","#000000"]}, "legend": {"title": null, "orient": "none", "legendX": 6, "legendY": 6, "columns": 2, "direction": "horizontal", "columnPadding": 0, "rowPadding": 0, "symbolType": "M-2,0H2M-0.4,0A0.4,0.4,0,1,0,0.4,0A0.4,0.4,0,1,0,-0.4,0M-0.25,0A0.25,0.25,0,1,0,0.25,0A0.25,0.25,0,1,0,-0.25,0M-0.1,0A0.1,0.1,0,1,0,0.1,0A0.1,0.1,0,1,0,-0.1,0", "symbolSize": 196, "symbolOffset": 7, "symbolStrokeWidth": 1.2, "labelFontSize": 12.5, "labelOffset": 9, "padding": 0}}}},
        {"data": {"name": "dC"}, "transform": [{"fold": ["Conversion"], "as": ["series", "conv"]}], "mark": {"type": "circle", "size": 22, "opacity": 1},
         "encoding": {"color": {"field": "series", "type": "nominal", "scale": {"domain": ["Methane","C2-C5 alkane","Ethene","Propene","Butene","Pentene","C6+","Aromatics","Conversion"], "range": ["#800000","#ff00ff","#ff0000","#808000","#ff8000","#5ab8f5","#0000cc","#008000","#000000"]}, "legend": {"title": null, "orient": "none", "legendX": 6, "legendY": 6, "columns": 2, "direction": "horizontal", "columnPadding": 0, "rowPadding": 0, "symbolType": "M-2,0H2M-0.4,0A0.4,0.4,0,1,0,0.4,0A0.4,0.4,0,1,0,-0.4,0M-0.25,0A0.25,0.25,0,1,0,0.25,0A0.25,0.25,0,1,0,-0.25,0M-0.1,0A0.1,0.1,0,1,0,0.1,0A0.1,0.1,0,1,0,-0.1,0", "symbolSize": 196, "symbolOffset": 7, "symbolStrokeWidth": 1.2, "labelFontSize": 12.5, "labelOffset": 9, "padding": 0}}}},
        {"data": {"values": [{"t": 213, "t2": 248, "conv": 97.6}]}, "mark": {"type": "rule", "color": "black", "strokeWidth": 1}, "encoding": {"x2": {"field": "t2"}}},
        {"data": {"values": [{"t": 248, "conv": 97.6}]}, "mark": {"type": "point", "shape": "triangle-right", "filled": true, "color": "black", "size": 45, "opacity": 1}}
       ]
      }
     ]
    }
   ],
   "spacing": 95.5,
   "bounds": "flush",
   "resolve": {"scale": {"color": "independent"}, "legend": {"color": "independent"}}
  },
  {
   "hconcat": [
    {
     "width": 269, "height": 217,
     "view": {"stroke": "black", "fill": {"gradient": "linear", "x1": 0, "y1": 0, "x2": 0, "y2": 1, "stops": [{"offset": 0, "color": "#d9efb3"}, {"offset": 1, "color": "#f7efc6"}]}},
     "encoding": {
      "x": {"field": "t", "type": "quantitative", "scale": {"domain": [0, 264], "nice": false}, "axis": {"title": "Reaction time (h)", "values": [0,12,24,36,48,60,72,84,96,108,120,132,144,156,168,180,192,204,216,228,240,252,264], "labelExpr": "datum.value % 24 === 0 ? datum.label : ''", "encode": {"ticks": {"update": {"y2": {"signal": "datum.value % 24 === 0 ? 4 : 2"}}}}, "labelFontSize": 14, "titleFontSize": 18, "titlePadding": 1}},
      "y": {"field": "v", "type": "quantitative", "scale": {"domain": [0, 40], "nice": false}, "axis": {"title": "Coke content (%)", "values": [0,2.5,5,7.5,10,12.5,15,17.5,20,22.5,25,27.5,30,32.5,35,37.5,40], "labelExpr": "datum.value % 5 === 0 ? datum.label : ''", "encode": {"ticks": {"update": {"x2": {"signal": "datum.value % 5 === 0 ? -4 : -2"}}}}, "labelFontSize": 14, "titleFontSize": 15, "titlePadding": 9}}
     },
     "layer": [
      {"data": {"name": "dD"}, "mark": {"type": "line", "strokeWidth": 1}, "encoding": {"color": {"field": "s", "type": "nominal", "scale": {"domain": ["L-ZSM-11","M-ZSM-11","S-ZSM-11"], "range": ["#808000","#ff8000","#5ab8f5"]}, "legend": {"title": null, "orient": "none", "legendX": 10, "legendY": 5.5, "rowPadding": 0, "symbolType": "M-2,0H2M-0.53,0A0.53,0.53,0,1,0,0.53,0A0.53,0.53,0,1,0,-0.53,0M-0.38,0A0.38,0.38,0,1,0,0.38,0A0.38,0.38,0,1,0,-0.38,0M-0.23,0A0.23,0.23,0,1,0,0.23,0A0.23,0.23,0,1,0,-0.23,0M-0.08,0A0.08,0.08,0,1,0,0.08,0A0.08,0.08,0,1,0,-0.08,0", "symbolSize": 225, "symbolOffset": 7.5, "symbolStrokeWidth": 1.3, "labelFontSize": 14, "labelOffset": 8, "padding": 0}}}},
      {"data": {"name": "dD"}, "mark": {"type": "circle", "size": 64, "opacity": 1}, "encoding": {"color": {"field": "s", "type": "nominal", "scale": {"domain": ["L-ZSM-11","M-ZSM-11","S-ZSM-11"], "range": ["#808000","#ff8000","#5ab8f5"]}, "legend": {"title": null, "orient": "none", "legendX": 10, "legendY": 5.5, "rowPadding": 0, "symbolType": "M-2,0H2M-0.53,0A0.53,0.53,0,1,0,0.53,0A0.53,0.53,0,1,0,-0.53,0M-0.38,0A0.38,0.38,0,1,0,0.38,0A0.38,0.38,0,1,0,-0.38,0M-0.23,0A0.23,0.23,0,1,0,0.23,0A0.23,0.23,0,1,0,-0.23,0M-0.08,0A0.08,0.08,0,1,0,0.08,0A0.08,0.08,0,1,0,-0.08,0", "symbolSize": 225, "symbolOffset": 7.5, "symbolStrokeWidth": 1.3, "labelFontSize": 14, "labelOffset": 8, "padding": 0}}}},
      {"data": {"name": "dD"}, "mark": {"type": "circle", "size": 9, "opacity": 0.55, "color": "white", "xOffset": -1, "yOffset": -1}},
      {"data": {"values": [{"t": 252, "v": 36.5, "lab": "D"}]}, "mark": {"type": "text", "fontSize": 18, "color": "black"}, "encoding": {"text": {"field": "lab"}}}
     ]
    },
    {
     "width": 268, "height": 217,
     "view": {"stroke": "black", "fill": {"gradient": "linear", "x1": 0, "y1": 0, "x2": 0, "y2": 1, "stops": [{"offset": 0, "color": "#d9efb3"}, {"offset": 1, "color": "#f7efc6"}]}},
     "encoding": {
      "x": {"field": "t", "type": "quantitative", "scale": {"domain": [-5, 264], "nice": false, "zero": false}, "axis": {"title": "Time on stream (h)", "values": [0,12,24,36,48,60,72,84,96,108,120,132,144,156,168,180,192,204,216,228,240,252,264], "labelExpr": "datum.value % 24 === 0 ? datum.label : ''", "encode": {"ticks": {"update": {"y2": {"signal": "datum.value % 24 === 0 ? 4 : 2"}}}}, "labelFontSize": 14, "titleFontSize": 18, "titlePadding": 0}},
      "y": {"field": "v", "type": "quantitative", "scale": {"domain": [80, 320], "nice": false, "zero": false}, "axis": {"title": "Micropore surface area (m² g⁻¹)", "values": [80,100,120,140,160,180,200,220,240,260,280,300,320], "labelExpr": "datum.value % 40 === 0 ? datum.label : ''", "encode": {"ticks": {"update": {"x2": {"signal": "datum.value % 40 === 0 ? -4 : -2"}}}}, "labelFontSize": 14, "titleFontSize": 17.5, "titlePadding": 2}}
     },
     "layer": [
      {"data": {"name": "dE"}, "mark": {"type": "line", "strokeWidth": 1}, "encoding": {"color": {"field": "s", "type": "nominal", "scale": {"domain": ["L-ZSM-11","M-ZSM-11","S-ZSM-11"], "range": ["#808000","#ff8000","#5ab8f5"]}, "legend": {"title": null, "orient": "none", "legendX": 12, "legendY": 4.5, "rowPadding": 0, "symbolType": "M-2,0H2M-0.53,0A0.53,0.53,0,1,0,0.53,0A0.53,0.53,0,1,0,-0.53,0M-0.38,0A0.38,0.38,0,1,0,0.38,0A0.38,0.38,0,1,0,-0.38,0M-0.23,0A0.23,0.23,0,1,0,0.23,0A0.23,0.23,0,1,0,-0.23,0M-0.08,0A0.08,0.08,0,1,0,0.08,0A0.08,0.08,0,1,0,-0.08,0", "symbolSize": 225, "symbolOffset": 7.5, "symbolStrokeWidth": 1.3, "labelFontSize": 14, "labelOffset": 8, "padding": 0}}}},
      {"data": {"name": "dE"}, "mark": {"type": "circle", "size": 64, "opacity": 1}, "encoding": {"color": {"field": "s", "type": "nominal", "scale": {"domain": ["L-ZSM-11","M-ZSM-11","S-ZSM-11"], "range": ["#808000","#ff8000","#5ab8f5"]}, "legend": {"title": null, "orient": "none", "legendX": 12, "legendY": 4.5, "rowPadding": 0, "symbolType": "M-2,0H2M-0.53,0A0.53,0.53,0,1,0,0.53,0A0.53,0.53,0,1,0,-0.53,0M-0.38,0A0.38,0.38,0,1,0,0.38,0A0.38,0.38,0,1,0,-0.38,0M-0.23,0A0.23,0.23,0,1,0,0.23,0A0.23,0.23,0,1,0,-0.23,0M-0.08,0A0.08,0.08,0,1,0,0.08,0A0.08,0.08,0,1,0,-0.08,0", "symbolSize": 225, "symbolOffset": 7.5, "symbolStrokeWidth": 1.3, "labelFontSize": 14, "labelOffset": 8, "padding": 0}}}},
      {"data": {"name": "dE"}, "mark": {"type": "circle", "size": 9, "opacity": 0.55, "color": "white", "xOffset": -1, "yOffset": -1}},
      {"data": {"values": [{"t": 251, "v": 298.8, "lab": "E"}]}, "mark": {"type": "text", "fontSize": 18, "color": "black"}, "encoding": {"text": {"field": "lab"}}}
     ]
    },
    {
     "width": 264, "height": 217,
     "view": {"stroke": "black", "fill": {"gradient": "linear", "x1": 0, "y1": 0, "x2": 0, "y2": 1, "stops": [{"offset": 0, "color": "#d9efb3"}, {"offset": 1, "color": "#f7efc6"}]}},
     "encoding": {
      "x": {"field": "t", "type": "quantitative", "scale": {"domain": [-5, 264], "nice": false, "zero": false}, "axis": {"title": "Time on stream (h)", "values": [0,12,24,36,48,60,72,84,96,108,120,132,144,156,168,180,192,204,216,228,240,252,264], "labelExpr": "datum.value % 24 === 0 ? datum.label : ''", "encode": {"ticks": {"update": {"y2": {"signal": "datum.value % 24 === 0 ? 4 : 2"}}}}, "labelFontSize": 14, "titleFontSize": 18, "titlePadding": 0}},
      "y": {"field": "v", "type": "quantitative", "scale": {"domain": [0.02, 0.16], "nice": false, "zero": false}, "axis": {"title": "Micropore volume (cm³ g⁻¹)", "values": [0.02,0.03,0.04,0.05,0.06,0.07,0.08,0.09,0.1,0.11,0.12,0.13,0.14,0.15,0.16], "format": ".2f", "labelExpr": "round(datum.value * 100) % 2 === 0 ? datum.label : ''", "encode": {"ticks": {"update": {"x2": {"signal": "round(datum.value * 100) % 2 === 0 ? -4 : -2"}}}}, "labelFontSize": 14, "titleFontSize": 17.5, "titlePadding": 2}}
     },
     "layer": [
      {"data": {"name": "dF"}, "mark": {"type": "line", "strokeWidth": 1}, "encoding": {"color": {"field": "s", "type": "nominal", "scale": {"domain": ["L-ZSM-11","M-ZSM-11","S-ZSM-11"], "range": ["#808000","#ff8000","#5ab8f5"]}, "legend": {"title": null, "orient": "none", "legendX": 11, "legendY": 5.5, "rowPadding": 0, "symbolType": "M-2,0H2M-0.53,0A0.53,0.53,0,1,0,0.53,0A0.53,0.53,0,1,0,-0.53,0M-0.38,0A0.38,0.38,0,1,0,0.38,0A0.38,0.38,0,1,0,-0.38,0M-0.23,0A0.23,0.23,0,1,0,0.23,0A0.23,0.23,0,1,0,-0.23,0M-0.08,0A0.08,0.08,0,1,0,0.08,0A0.08,0.08,0,1,0,-0.08,0", "symbolSize": 225, "symbolOffset": 7.5, "symbolStrokeWidth": 1.3, "labelFontSize": 14, "labelOffset": 8, "padding": 0}}}},
      {"data": {"name": "dF"}, "mark": {"type": "circle", "size": 64, "opacity": 1}, "encoding": {"color": {"field": "s", "type": "nominal", "scale": {"domain": ["L-ZSM-11","M-ZSM-11","S-ZSM-11"], "range": ["#808000","#ff8000","#5ab8f5"]}, "legend": {"title": null, "orient": "none", "legendX": 11, "legendY": 5.5, "rowPadding": 0, "symbolType": "M-2,0H2M-0.53,0A0.53,0.53,0,1,0,0.53,0A0.53,0.53,0,1,0,-0.53,0M-0.38,0A0.38,0.38,0,1,0,0.38,0A0.38,0.38,0,1,0,-0.38,0M-0.23,0A0.23,0.23,0,1,0,0.23,0A0.23,0.23,0,1,0,-0.23,0M-0.08,0A0.08,0.08,0,1,0,0.08,0A0.08,0.08,0,1,0,-0.08,0", "symbolSize": 225, "symbolOffset": 7.5, "symbolStrokeWidth": 1.3, "labelFontSize": 14, "labelOffset": 8, "padding": 0}}}},
      {"data": {"name": "dF"}, "mark": {"type": "circle", "size": 9, "opacity": 0.55, "color": "white", "xOffset": -1, "yOffset": -1}},
      {"data": {"values": [{"t": 252, "v": 0.1476, "lab": "F"}]}, "mark": {"type": "text", "fontSize": 18, "color": "black"}, "encoding": {"text": {"field": "lab"}}}
     ]
    }
   ],
   "spacing": 82,
   "bounds": "flush",
   "resolve": {"scale": {"color": "independent"}, "legend": {"color": "independent"}}
  }
 ]
}
